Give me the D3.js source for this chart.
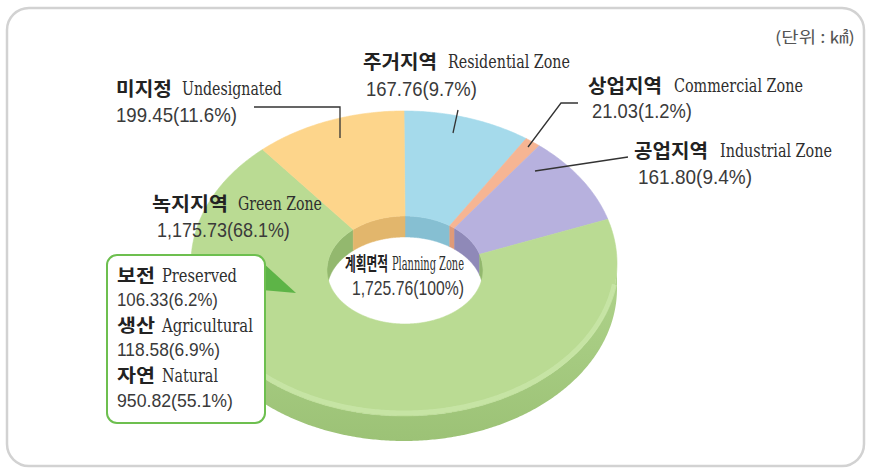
<!DOCTYPE html>
<html><head><meta charset="utf-8">
<script src="https://cdn.jsdelivr.net/npm/d3@7"></script>
<style>
html,body{margin:0;padding:0;background:#fff;}
svg{display:block;}
</style></head>
<body>
<svg id="chart" width="870" height="469"></svg>
<script>
// ---- data ----
const categories = ["주거지역", "상업지역", "공업지역", "녹지지역", "미지정"];
const englishNames = ["Residential Zone", "Commercial Zone", "Industrial Zone", "Green Zone", "Undesignated"];
const values = [167.76, 21.03, 161.80, 1175.73, 199.45];
const percents = ["9.7%", "1.2%", "9.4%", "68.1%", "11.6%"];
const greenSubKo = ["보전", "생산", "자연"];
const greenSubEn = ["Preserved", "Agricultural", "Natural"];
const greenSubValues = [106.33, 118.58, 950.82];
const greenSubPercents = ["6.2%", "6.9%", "55.1%"];
const totalKo = "계획면적", totalEn = "Planning Zone", totalValue = 1725.76, totalPercent = "100%";
const unitLabel = "(단위 : ㎢)";
const colors = ["#a5daeb", "#f6b593", "#b7b1de", "#badb93", "#fdd58b"];
const wallColors = ["#86bfd2", "#e09a78", "#8f89b8", "#93b86e", "#e2b66c"];

// ---- layout ----
const svg = d3.select("#chart");
const cx = 404, cy = 263.5, rx = 213, ry = 152.5;
const icx = 405, icy = 270, irx = 78, iry = 54;
const depth = 25;
const fmt = d3.format(",.2f");

svg.append("rect").attr("x", 7).attr("y", 8).attr("width", 857).attr("height", 458)
  .attr("rx", 22).attr("fill", "#fff").attr("stroke", "#d2d2d2").attr("stroke-width", 2.5);

const xO = d3.scaleLinear().domain([-1, 1]).range([cx - rx, cx + rx]);
const yO = d3.scaleLinear().domain([-1, 1]).range([cy - ry, cy + ry]);
const xI = d3.scaleLinear().domain([-1, 1]).range([icx - irx, icx + irx]);
const yI = d3.scaleLinear().domain([-1, 1]).range([icy - iry, icy + iry]);

function pt(a, ring, dy) {
  return ring === "o" ? [xO(Math.sin(a)), yO(-Math.cos(a)) + dy] : [xI(Math.sin(a)), yI(-Math.cos(a)) + dy];
}
function arcPts(a0, a1, ring, dy) {
  const n = Math.max(2, Math.ceil(Math.abs(a1 - a0) / 0.01));
  const out = [];
  for (let k = 0; k <= n; k++) out.push(pt(a0 + (a1 - a0) * k / n, ring, dy));
  return out;
}
function clip(a0, a1, lo, hi) {
  const s = Math.max(a0, lo), e = Math.min(a1, hi);
  return e > s ? [s, e] : null;
}
const line = d3.line().curve(d3.curveLinearClosed);

const pie = d3.pie().sort(null).startAngle(0).endAngle(2 * Math.PI);
const arcs = pie(values);

const defs = svg.append("defs");
const sg = defs.append("linearGradient").attr("id", "sideG").attr("x1", 0).attr("y1", 0).attr("x2", 0).attr("y2", 1);
sg.append("stop").attr("offset", "0%").attr("stop-color", "#b0d48c");
sg.append("stop").attr("offset", "100%").attr("stop-color", "#9cc276");

const g = svg.append("g");

// outer side (front)
arcs.forEach((d, i) => {
  const c = clip(d.startAngle, d.endAngle, Math.PI / 2, 3 * Math.PI / 2);
  if (!c) return;
  const top = arcPts(c[0], c[1], "o", 0);
  const bot = arcPts(c[0], c[1], "o", depth).reverse();
  g.append("path").attr("d", line(top.concat(bot)))
    .attr("fill", i === 3 ? "url(#sideG)" : wallColors[i])
    .attr("stroke", "none");
});

// inner wall (back)
arcs.forEach((d, i) => {
  [[0, Math.PI / 2], [3 * Math.PI / 2, 2 * Math.PI]].forEach(iv => {
    const c = clip(d.startAngle, d.endAngle, iv[0], iv[1]);
    if (!c) return;
    const top = arcPts(c[0], c[1], "i", 0);
    const bot = arcPts(c[0], c[1], "i", depth - 4).reverse();
    g.append("path").attr("d", line(top.concat(bot)))
      .attr("fill", wallColors[i])
      .attr("stroke", wallColors[i]).attr("stroke-width", 0.5);
  });
});

// top faces
arcs.forEach((d, i) => {
  const outer = arcPts(d.startAngle, d.endAngle, "o", 0);
  const inner = arcPts(d.endAngle, d.startAngle, "i", 0);
  g.append("path").attr("d", line(outer.concat(inner)))
    .attr("fill", colors[i]).attr("stroke", colors[i]).attr("stroke-width", 0.6);
});

// light bevel on front edge
g.append("path")
  .attr("d", d3.line()(arcPts(Math.PI * 0.55, Math.PI * 1.45, "o", -3)))
  .attr("fill", "none").attr("stroke", "#c9e6a9").attr("stroke-width", 5).attr("opacity", 0.8);

// ---- leader lines ----
const leaders = [
  [[458, 110], [453, 133]],
  [[578, 103], [561, 103], [528, 147]],
  [[628, 157], [535, 171]],
  null,
  [[254, 107], [340, 107], [340, 138]]
];
leaders.forEach(p => {
  if (!p) return;
  svg.append("path").attr("d", d3.line()(p)).attr("fill", "none")
    .attr("stroke", "#333").attr("stroke-width", 1.3);
});

// ---- labels ----
const koFont = "'Noto Sans CJK KR', sans-serif";
const enFont = "'DejaVu Serif', serif";
const numFont = "'Liberation Sans', Arial, sans-serif";

// text squeezed horizontally to a given width (condensed look)
function txt(x, y, s, o) {
  const grp = svg.append("g").attr("transform", `translate(${x},${y})`);
  const t = grp.append("text").attr("x", 0).attr("y", 0).text(s)
    .attr("dominant-baseline", "central")
    .attr("font-family", o.font).attr("font-size", o.size)
    .attr("font-weight", o.weight || 400).attr("fill", o.fill || "#333");
  if (o.stretch) t.attr("font-stretch", o.stretch);
  if (o.w) {
    const bw = t.node().getComputedTextLength();
    if (bw > 0) t.attr("transform", `scale(${o.w / bw},1)`);
  }
  return t;
}

const labelPos = [
  {x: 363, y: 61, kw: 74, enX: 448, enW: 122, numX: 366, numY: 89, numW: 111},
  {x: 588, y: 85, kw: 74, enX: 674, enW: 129, numX: 592, numY: 111, numW: 100},
  {x: 634, y: 150, kw: 74, enX: 720, enW: 112, numX: 638, numY: 177, numW: 114},
  {x: 152, y: 203, kw: 76, enX: 238, enW: 84, numX: 157, numY: 230, numW: 133},
  {x: 116, y: 88, kw: 56, enX: 182, enW: 100, numX: 116, numY: 115, numW: 121}
];
categories.forEach((c, i) => {
  const p = labelPos[i];
  txt(p.x, p.y, c, {font: koFont, size: 19, weight: 700, fill: "#222", w: p.kw});
  txt(p.enX, p.y + 1, englishNames[i], {font: enFont, size: 18, fill: "#2e2e2e", w: p.enW, stretch: "condensed"});
  txt(p.numX, p.numY, fmt(values[i]) + "(" + percents[i] + ")", {font: numFont, size: 20, fill: "#3a3a3a", w: p.numW});
});

// callout box for green sub-categories
svg.append("path").attr("d", d3.line()([[262, 262], [262, 290], [296, 293]]))
  .attr("fill", "#5db447");
svg.append("rect").attr("x", 107).attr("y", 255).attr("width", 158).attr("height", 168)
  .attr("rx", 10).attr("fill", "#fff").attr("stroke", "#6dbf4f").attr("stroke-width", 2);
const subLayout = [
  {ky: 275, kw: 38, enW: 75, ny: 300, nw: 101},
  {ky: 325, kw: 38, enW: 91, ny: 349.5, nw: 103},
  {ky: 374.5, kw: 38, enW: 56, ny: 400, nw: 116}
];
greenSubKo.forEach((k, j) => {
  const L = subLayout[j];
  txt(117, L.ky, k, {font: koFont, size: 18, weight: 700, fill: "#222", w: L.kw});
  txt(162, L.ky + 1, greenSubEn[j], {font: enFont, size: 18, fill: "#2e2e2e", w: L.enW, stretch: "condensed"});
  txt(117, L.ny, fmt(greenSubValues[j]) + "(" + greenSubPercents[j] + ")", {font: numFont, size: 19, fill: "#3a3a3a", w: L.nw});
});

// center label
txt(345, 263, totalKo, {font: koFont, size: 19, weight: 700, fill: "#222", w: 43});
txt(392, 264, totalEn, {font: enFont, size: 18, fill: "#2e2e2e", w: 72, stretch: "condensed"});
txt(352, 288, fmt(totalValue) + "(" + totalPercent + ")", {font: numFont, size: 20, fill: "#3a3a3a", w: 112});

// unit
txt(775, 36, unitLabel, {font: koFont, size: 16, fill: "#555", w: 80});
</script>
</body></html>
